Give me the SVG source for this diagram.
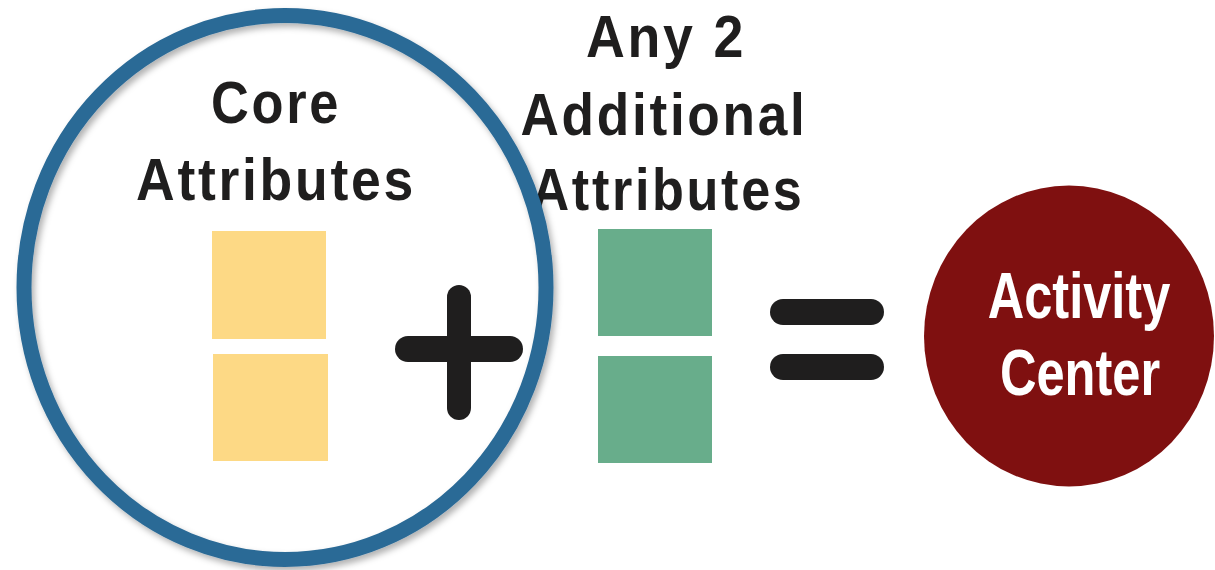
<svg xmlns="http://www.w3.org/2000/svg" width="1215" height="570" viewBox="0 0 1215 570">
  <defs>
    <filter id="softShadow" x="-10%" y="-10%" width="120%" height="120%">
      <feDropShadow dx="3" dy="4" stdDeviation="3" flood-color="#000" flood-opacity="0.3"/>
    </filter>
    <style>
      .label { font-family: "Liberation Sans", Arial, sans-serif; font-weight: bold; fill: #1f1e1e; text-anchor: middle; font-size: 59px; letter-spacing: 3px; }
      .inverse { font-family: "Liberation Sans", Arial, sans-serif; font-weight: bold; fill: #ffffff; text-anchor: middle; font-size: 64px; }
      .core { fill: #fdd985; }
      .extra { fill: #68ad8b; }
      .op { fill: #1f1e1e; }
    </style>
  </defs>

  <rect width="1215" height="570" fill="#ffffff"/>

  <!-- core attribute pair -->
  <g id="core-attributes">
    <text class="label" x="276" y="123" textLength="130" lengthAdjust="spacingAndGlyphs">Core</text>
    <text class="label" x="276" y="200" textLength="280" lengthAdjust="spacingAndGlyphs">Attributes</text>
    <rect class="core" x="212" y="231" width="114" height="108"/>
    <rect class="core" x="213" y="354" width="115" height="107"/>
  </g>

  <!-- additional attribute pair -->
  <g id="additional-attributes">
    <text class="label" x="666" y="57" textLength="160" lengthAdjust="spacingAndGlyphs">Any 2</text>
    <text class="label" x="664" y="135" textLength="287" lengthAdjust="spacingAndGlyphs">Additional</text>
    <text class="label" x="668" y="210" textLength="273" lengthAdjust="spacingAndGlyphs">Attributes</text>
    <rect class="extra" x="598" y="229" width="114" height="107"/>
    <rect class="extra" x="598" y="356" width="114" height="107"/>
  </g>

  <!-- ring around the core group -->
  <g id="core-ring">
    <ellipse cx="285" cy="287.5" rx="261" ry="272" fill="none" stroke="#2c6a96" stroke-width="15" filter="url(#softShadow)"/>
  </g>

  <!-- operators -->
  <g id="plus-sign">
    <rect class="op" x="447" y="285" width="24" height="135" rx="12"/>
    <rect class="op" x="395" y="336" width="128" height="26" rx="13"/>
  </g>
  <g id="equals-sign">
    <rect class="op" x="770" y="299" width="114" height="26" rx="13"/>
    <rect class="op" x="770" y="354" width="114" height="26" rx="13"/>
  </g>

  <!-- result -->
  <g id="activity-center">
    <ellipse cx="1069" cy="336" rx="145" ry="150.5" fill="#7f1010"/>
    <text class="inverse" transform="translate(1079 318) scale(0.79 1)">Activity</text>
    <text class="inverse" transform="translate(1080 395) scale(0.79 1)">Center</text>
  </g>
</svg>
